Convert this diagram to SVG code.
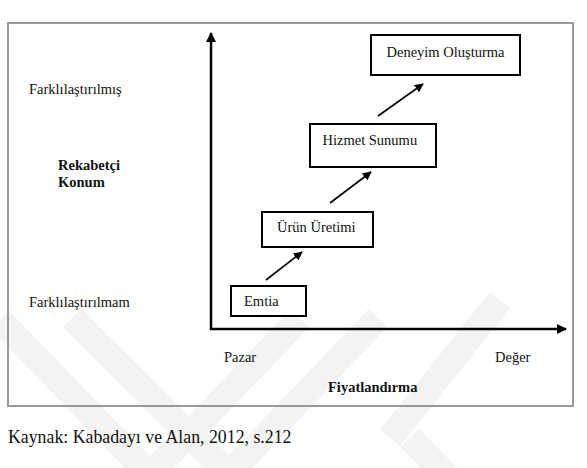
<svg xmlns="http://www.w3.org/2000/svg" width="587" height="468" viewBox="0 0 587 468">
<defs>
<marker id="ah" viewBox="0 0 10 10" refX="9" refY="5" markerWidth="10" markerHeight="10" markerUnits="userSpaceOnUse" orient="auto">
<path d="M0,0 L10,5 L0,10 z" fill="#000"/>
</marker>
<marker id="ahs" viewBox="0 0 10 10" refX="9" refY="5" markerWidth="9" markerHeight="9" markerUnits="userSpaceOnUse" orient="auto">
<path d="M0,0 L10,5 L0,10 z" fill="#000"/>
</marker>
</defs>
<style>
.box{fill:#fff;stroke:#000;stroke-width:2}
.ax{stroke:#000;stroke-width:2.5;fill:none}
.con{stroke:#000;stroke-width:1.6;fill:none}
.wm{stroke:#f3f3f3;stroke-width:26;fill:none}
</style>
<rect width="587" height="468" fill="#fff"/>
<g id="watermark">
<line class="wm" x1="0" y1="320" x2="150" y2="475"/>
<line class="wm" x1="72" y1="318" x2="230" y2="475"/>
<line class="wm" x1="300" y1="318" x2="150" y2="475"/>
<line class="wm" x1="378" y1="318" x2="228" y2="475"/>
<line class="wm" x1="500" y1="300" x2="390" y2="438"/>
<line class="wm" x1="410" y1="438" x2="470" y2="500"/>
</g>
<rect id="frame" x="8" y="23" width="565" height="383" fill="none" stroke="#999" stroke-width="2"/>
<g id="axes">
<line class="ax" x1="211" y1="330" x2="211" y2="33" marker-end="url(#ah)"/>
<line class="ax" x1="210" y1="329" x2="566" y2="329" marker-end="url(#ah)"/>
</g>
<g id="connectors">
<line class="con" x1="266" y1="280" x2="302" y2="252" marker-end="url(#ahs)"/>
<line class="con" x1="330" y1="203" x2="371" y2="172" marker-end="url(#ahs)"/>
<line class="con" x1="378" y1="116" x2="423" y2="84" marker-end="url(#ahs)"/>
</g>
<g font-family="Liberation Serif, Times New Roman, serif" font-size="14.5" fill="#111">
<g id="emtia">
<rect class="box" x="231" y="286" width="75" height="30"/>
<text x="244" y="306">Emtia</text>
</g>
<g id="urun">
<rect class="box" x="262" y="212" width="111" height="35"/>
<text x="277" y="232">Ürün Üretimi</text>
</g>
<g id="hizmet">
<rect class="box" x="310" y="124" width="126" height="43"/>
<text x="322.5" y="145">Hizmet Sunumu</text>
</g>
<g id="deneyim">
<rect class="box" x="371" y="35" width="149" height="40"/>
<text x="445.5" y="57" text-anchor="middle">Deneyim Oluşturma</text>
</g>
<g id="labels">
<text x="29" y="94">Farklılaştırılmış</text>
<text x="58" y="170" font-weight="bold">Rekabetçi</text>
<text x="58" y="187" font-weight="bold">Konum</text>
<text x="29" y="307">Farklılaştırılmam</text>
<text x="224" y="362">Pazar</text>
<text x="495" y="362">Değer</text>
<text x="328" y="392" font-weight="bold">Fiyatlandırma</text>
</g>
</g>
<text x="8" y="443" font-family="Liberation Serif, Times New Roman, serif" font-size="17.8" fill="#111">Kaynak: Kabadayı ve Alan, 2012, s.212</text>
</svg>
